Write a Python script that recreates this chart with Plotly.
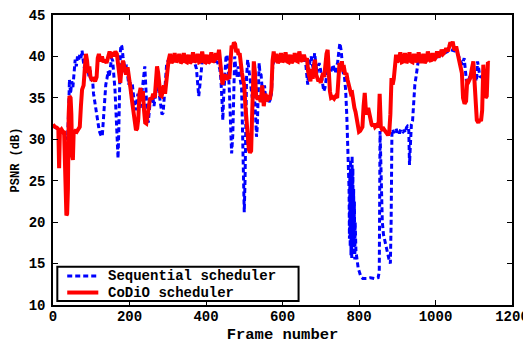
import plotly.graph_objects as go

# ---- data ----
codio_frames = [0,5,10,14,16,18,22,26,29,31,33,35,37,39,41,43,46,48,50,52,54,58,62,66,70,73,76,80,83,86,89,92,95,98,
    102,106,110,114,117,120,124,128,132,136,140,144,148,151,155,159,163,167,170,173,176,179,183,187,191,195,199,
    203,207,211,214,217,220,223,226,229,232,235,238,241,244,247,250,254,258,262,266,269,272,275,278,281,284,287,290,
    293,296,299,302,306,310,314,318,322,326,330,334,338,342,346,350,354,358,362,366,370,374,378,382,386,390,394,398,
    402,406,410,414,418,422,426,430,434,437,440,443,446,450,454,458,461,464,467,470,473,476,479,482,485,488,491,494,
    497,500,503,506,509,512,515,518,520,522,525,528,531,535,539,543,547,551,555,559,563,567,571,574,577,
    580,584,588,592,596,600,604,608,612,616,620,624,628,632,636,640,644,648,652,656,660,664,667,670,673,676,679,682,
    685,688,691,694,697,700,703,706,709,712,715,718,721,724,727,731,735,739,743,746,749,752,755,758,761,764,767,770,
    773,776,779,782,785,788,791,794,797,800,803,806,809,812,815,818,821,824,827,830,833,836,839,842,845,848,851,854,
    857,860,864,868,872,876,879,882,885,888,891,894,897,900,904,908,912,916,920,924,928,932,936,940,944,948,952,956,
    960,964,968,972,976,980,984,988,992,996,1000,1004,1008,1012,1016,1020,1024,1028,1032,1036,1039,1042,1045,1048,
    1051,1054,1057,1060,1063,1066,1069,1072,1076,1080,1083,1087,1091,1095,1099,1102,1105,1108,1112,1116,1119,1122,
    1125,1128,1131,1134,1137,1140]
codio_psnr = [31.8,31.5,31.4,31.2,26.5,31.0,31.2,30.9,31.0,25.0,21.2,20.8,21.0,24.0,33.0,35.2,35.0,33.0,28.0,27.5,30.8,31.0,30.9,31.3,31.5,34.0,36.0,36.5,38.5,40.3,39.5,38.0,38.8,37.5,
    37.2,37.3,37.0,37.5,39.8,40.3,39.4,40.0,39.3,39.6,39.2,40.0,40.6,39.8,40.5,40.0,40.6,40.3,39.0,37.8,36.8,38.5,39.5,38.6,37.8,38.7,37.6,
    36.0,34.5,33.0,31.6,31.1,31.3,32.5,35.5,36.2,34.6,35.8,33.5,32.0,31.9,33.0,34.5,35.0,34.8,35.5,35.0,37.0,38.8,38.0,36.0,35.3,35.2,35.8,36.5,
    35.5,37.0,38.5,39.5,40.3,39.2,39.5,40.4,39.3,39.6,40.3,39.2,39.4,40.4,39.4,39.3,40.2,39.2,39.4,40.5,39.3,39.5,40.3,39.3,39.4,40.6,39.4,39.3,
    40.2,39.2,39.4,40.5,39.3,39.5,40.4,39.6,40.8,39.5,37.5,36.6,37.5,37.8,37.2,37.6,37.3,39.5,41.3,41.0,41.7,41.5,40.5,40.9,40.2,40.4,38.8,38.0,
    37.2,36.5,34.0,32.0,29.5,28.8,28.4,28.6,32.0,37.0,39.4,38.0,35.3,34.8,35.2,34.5,36.5,34.0,35.5,34.6,35.0,34.8,36.0,39.5,40.6,
    39.3,40.3,39.2,39.5,40.4,39.3,39.6,40.5,39.4,39.3,40.2,39.2,39.5,40.4,39.5,39.4,40.6,39.6,39.4,40.2,39.5,39.8,38.2,37.5,37.0,38.5,37.3,38.8,
    39.6,37.8,37.2,37.0,37.3,36.8,37.5,38.0,37.5,39.5,40.3,40.8,38.0,35.8,35.0,35.1,34.9,35.2,35.0,36.5,39.2,38.8,39.4,38.5,38.6,37.8,38.0,37.2,
    36.6,36.2,35.5,35.6,34.5,33.8,33.3,32.5,31.5,30.9,31.0,31.2,31.5,34.0,35.6,33.5,33.0,33.8,33.0,32.0,31.8,31.6,31.9,31.5,31.6,31.8,31.4,35.5,
    31.5,31.2,31.3,31.0,30.8,30.5,30.8,33.0,37.4,36.6,37.3,39.0,40.2,39.3,39.6,40.5,39.3,39.4,40.4,39.2,39.6,40.5,39.4,39.3,40.3,39.3,39.6,40.5,
    39.4,39.4,40.3,39.2,39.5,40.6,39.6,39.4,40.4,39.5,39.8,40.6,39.9,40.2,40.8,40.3,40.5,41.0,40.6,41.2,41.7,41.3,41.8,41.0,
    40.8,41.2,40.5,40.2,39.5,39.0,38.0,35.0,34.3,34.6,37.2,37.0,37.4,38.5,39.4,37.0,34.0,32.3,32.0,32.4,32.2,33.5,
    39.0,36.5,35.0,35.2,39.3,39.2]

seq_frames = [0,5,10,15,20,25,30,34,38,41,43,46,49,52,55,58,61,64,67,70,73,76,79,82,85,88,91,94,97,100,103,106,109,112,115,
    118,121,124,127,129,132,135,138,141,144,147,150,153,156,159,162,164,166,168,170,172,174,176,178,180,183,186,189,192,195,198,
    201,204,207,210,213,216,219,222,225,228,231,234,237,240,243,246,249,252,255,258,261,264,267,270,273,276,279,282,285,288,291,
    294,297,300,310,320,330,340,350,360,370,375,378,381,384,387,390,400,410,420,430,436,439,442,444,446,449,452,455,458,461,464,
    467,470,472,475,478,481,484,487,490,493,496,498,500,502,504,506,509,512,515,518,521,524,527,530,532,534,537,539,541,544,547,
    550,553,556,559,562,565,568,571,574,577,580,600,620,640,660,663,666,669,672,675,678,681,684,687,690,693,696,699,702,705,708,
    711,714,717,720,723,726,729,732,735,738,741,744,747,750,753,756,759,762,765,768,770,772,774,775,776,777,778,779,780,781,782,
    783,784,785,786,787,788,789,790,792,795,798,801,805,810,820,830,840,850,853,855,857,859,861,864,867,870,874,878,882,884,886,
    888,891,894,897,900,903,906,909,912,915,918,921,924,927,930,932,934,937,940,943,946,949,952,955,960,980,1000,1020,1040,1055,
    1065,1070,1075,1078,1081,1084,1087,1090,1095,1100,1104,1107,1110,1113,1116,1120,1125,1130,1134]
seq_psnr = [31.6,31.4,31.3,31.2,31.0,30.9,30.6,30.0,30.2,33.5,37.2,35.5,37.0,36.3,38.5,39.6,38.8,40.0,39.6,40.2,39.8,40.7,39.5,38.6,39.2,38.8,38.5,37.6,38.3,37.0,37.5,35.5,34.5,33.5,32.8,
    31.8,31.0,30.6,30.3,30.5,32.8,34.8,36.6,37.3,38.2,37.5,39.0,39.8,39.5,38.0,36.0,34.0,31.5,29.0,27.7,31.0,37.0,40.5,41.4,41.2,40.0,39.0,38.0,39.0,37.8,36.6,
    37.2,35.5,36.8,35.0,34.2,33.5,34.5,35.5,34.8,33.8,35.0,36.2,37.5,38.8,36.0,33.0,32.0,33.5,35.0,34.5,35.2,34.0,35.0,36.5,37.0,36.0,35.0,34.0,33.0,33.2,35.0,
    37.5,39.0,39.4,39.6,39.5,39.7,39.5,39.4,39.6,39.3,38.5,37.0,35.2,36.5,38.5,39.4,39.5,39.6,39.5,39.3,38.5,37.2,34.5,32.3,35.0,38.5,39.8,40.2,38.8,36.0,32.0,
    28.3,30.5,36.5,40.0,38.5,37.5,38.8,38.0,37.0,36.2,30.0,23.5,21.2,25.0,33.0,37.5,39.6,38.6,37.5,36.2,35.0,36.0,35.0,32.5,30.3,31.5,36.0,39.2,38.0,37.8,36.0,
    34.2,36.5,35.0,34.6,35.0,34.5,34.8,35.5,38.5,39.5,39.5,39.6,39.5,39.6,39.5,38.0,36.6,38.8,39.5,40.0,39.0,38.5,40.4,39.0,38.0,38.6,39.2,38.5,37.5,36.5,35.8,
    36.2,37.5,38.2,37.5,37.8,38.0,38.5,39.0,38.6,38.0,38.8,39.2,40.5,41.6,40.8,39.0,38.0,37.5,36.0,33.0,30.5,28.0,24.0,18.0,26.0,17.0,27.5,16.0,25.0,15.5,28.0,
    17.5,26.5,16.0,24.0,17.0,22.5,15.5,20.0,16.5,15.0,14.4,14.0,13.4,13.2,13.2,13.3,13.2,13.3,14.0,31.0,27.0,23.5,20.0,18.5,17.8,17.0,16.3,15.6,15.0,20.0,30.5,
    31.2,30.8,31.0,31.3,30.8,31.0,30.7,31.2,31.0,30.9,31.1,30.8,31.4,31.6,31.5,26.9,29.0,31.8,32.2,34.5,36.6,37.5,38.8,39.5,39.6,39.7,39.8,40.3,40.8,40.6,
    39.6,39.0,39.8,38.0,37.0,37.5,37.2,37.6,37.8,38.2,37.5,37.0,39.4,38.5,37.6,37.5,37.4,37.6,37.4]

series_names = ["Sequential scheduler", "CoDiO scheduler"]
x_ticks = [0, 200, 400, 600, 800, 1000, 1200]
y_ticks = [10, 15, 20, 25, 30, 35, 40, 45]

FONT = "Liberation Mono, Courier New, DejaVu Sans Mono, monospace"
BLUE = "#0000FF"
RED = "#FF0000"
BLUE_DASH = "5px,3px"

fig = go.Figure()
fig.add_trace(go.Scatter(x=seq_frames, y=seq_psnr, mode="lines", name=series_names[0],
                         showlegend=False,
                         line=dict(color=BLUE, width=3, dash=BLUE_DASH)))
fig.add_trace(go.Scatter(x=codio_frames, y=codio_psnr, mode="lines", name=series_names[1],
                         showlegend=False,
                         line=dict(color=RED, width=4)))

axis_common = dict(showline=True, linecolor="black", linewidth=1.5, mirror="ticks",
                   ticks="inside", ticklen=5, tickcolor="black", tickwidth=1,
                   showgrid=False, zeroline=False, automargin=False,
                   ticklabeloverflow="allow",
                   tickfont=dict(family=FONT, size=14, color="black", weight="bold"))

fig.update_xaxes(range=[0, 1200], tickvals=x_ticks, ticklabelstandoff=-3,
                 title=dict(text="Frame number", font=dict(family=FONT, size=15.5, color="black", weight="bold"), standoff=16),
                 **axis_common)
fig.update_yaxes(range=[10, 45], tickvals=y_ticks, ticklabelstandoff=3,
                 title=dict(text="PSNR (dB)", font=dict(family=FONT, size=12, color="black", weight="bold"), standoff=6),
                 **axis_common)

# legend box drawn in the lower-left corner of the plot area (paper coordinates)
leg_x0, leg_x1, leg_y0, leg_y1 = 0.0094, 0.535, 0.0138, 0.132
row_y = [0.1, 0.043]
sample_x = [0.031, 0.0987]
text_x = 0.1185
shapes = [dict(type="rect", xref="paper", yref="paper", x0=leg_x0, x1=leg_x1, y0=leg_y0, y1=leg_y1,
               line=dict(color="black", width=2), fillcolor="white", layer="above")]
annotations = []
for name, color, dash, ry in zip(series_names, [BLUE, RED], [BLUE_DASH, "solid"], row_y):
    shapes.append(dict(type="line", xref="paper", yref="paper", x0=sample_x[0], x1=sample_x[1], y0=ry, y1=ry,
                       line=dict(color=color, width=3 if dash != "solid" else 4, dash=dash), layer="above"))
    annotations.append(dict(text=name, xref="paper", yref="paper", x=text_x, y=ry, xanchor="left", yanchor="middle",
                            showarrow=False, borderpad=0,
                            font=dict(family=FONT, size=14, color="black", weight="bold")))

# the page body adds an 8px margin, so the figure is sized to fit the 531x344 window exactly
fig.update_layout(
    width=523, height=336,
    margin=dict(l=45, r=19, t=7, b=39),
    paper_bgcolor="white", plot_bgcolor="white",
    showlegend=False,
    shapes=shapes, annotations=annotations,
)

fig.write_html("out.html")
